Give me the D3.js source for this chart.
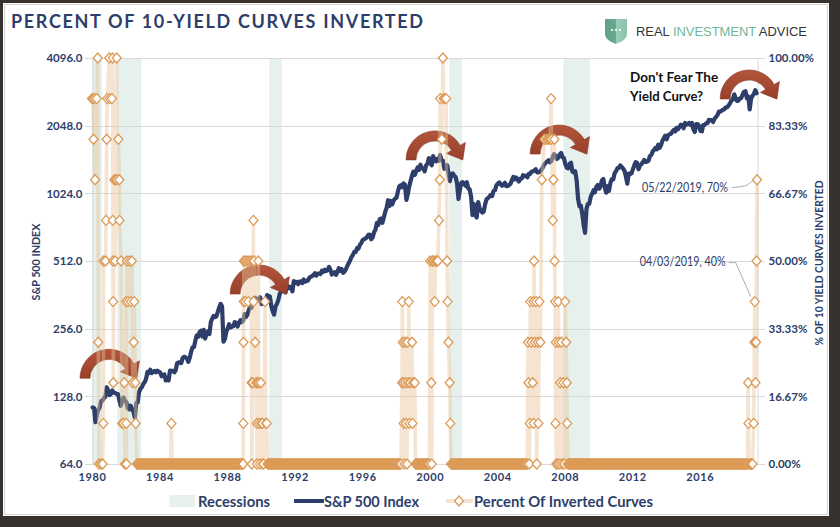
<!DOCTYPE html>
<html><head><meta charset="utf-8">
<script src="https://cdn.jsdelivr.net/npm/d3@7"></script>
<style>html,body{margin:0;padding:0;background:#37322e;}svg{display:block}</style>
</head><body>
<svg id="c" width="840" height="527"></svg>
<script>
// ---------------- DATA ----------------
const chartTitle = "PERCENT OF 10-YIELD CURVES INVERTED";
const spStartYear = 1980;
// S&P 500 monthly levels, one row per year
const sp500Monthly = [
[114.2,113.7,98.2,106.3,111.2,114.2,121.7,122.4,125.5,127.5,140.5,135.8],
[129.6,131.3,136.0,132.8,132.6,131.2,130.9,122.8,116.2,121.9,126.4,122.6],
[120.4,113.1,112.0,116.4,111.9,109.6,103.0,119.5,120.4,133.7,138.5,140.6],
[145.3,148.1,153.0,164.4,162.4,168.1,162.6,164.4,166.1,163.6,166.4,164.9],
[163.4,157.1,159.2,160.1,150.6,153.2,150.7,166.7,166.1,166.1,163.6,167.2],
[179.6,181.2,180.7,179.8,189.6,191.9,190.9,188.6,182.1,189.8,202.2,211.3],
[211.8,226.9,238.9,235.5,247.4,250.8,236.1,252.9,231.3,244.0,249.2,242.2],
[274.1,284.2,291.7,288.4,290.1,304.0,318.7,329.8,321.8,224.0,230.3,247.1],
[257.1,267.8,258.9,261.3,262.2,273.5,272.0,261.5,271.9,279.0,273.7,277.7],
[297.5,288.9,294.9,309.6,320.5,318.0,346.1,351.5,349.2,340.4,346.0,353.4],
[329.1,331.9,339.9,330.8,361.2,358.0,356.2,322.6,306.1,295.5,322.2,330.2],
[343.9,367.1,375.2,375.3,389.8,371.2,387.8,395.4,387.9,392.5,375.2,417.1],
[408.8,412.7,403.7,415.0,415.4,408.1,424.2,414.0,417.8,418.7,431.4,435.7],
[438.8,443.4,451.7,440.2,450.2,450.5,448.1,463.6,458.9,467.8,461.8,466.5],
[481.6,467.1,445.8,450.9,456.5,444.3,458.3,475.5,462.7,472.4,453.7,459.3],
[470.4,487.4,500.7,514.7,533.4,544.8,562.1,561.9,584.4,581.5,605.4,615.9],
[636.0,640.4,645.5,654.2,669.1,670.6,639.9,652.0,687.3,705.3,757.0,740.7],
[786.2,790.8,757.1,801.3,848.3,885.1,954.3,899.5,947.3,914.6,955.4,970.4],
[980.3,1049.3,1101.8,1111.8,1090.8,1133.8,1120.7,957.3,1017.0,1098.7,1163.6,1229.2],
[1279.6,1238.3,1286.4,1335.2,1301.8,1372.7,1328.7,1320.4,1282.7,1362.9,1389.0,1469.3],
[1394.5,1366.4,1498.6,1452.4,1420.6,1454.6,1430.8,1517.7,1436.5,1429.4,1315.2,1320.3],
[1366.0,1239.9,1160.3,1249.5,1255.8,1224.4,1211.2,1133.6,966.0,1059.8,1139.5,1148.1],
[1130.2,1106.7,1147.4,1076.9,1067.1,989.8,820.0,916.1,815.3,800.0,936.3,879.8],
[855.7,841.2,848.2,916.9,963.6,974.5,990.3,1008.0,996.0,1050.7,1058.2,1111.9],
[1131.1,1144.9,1126.2,1107.3,1120.7,1140.8,1101.7,1104.2,1114.6,1130.2,1173.8,1211.9],
[1181.3,1203.6,1180.6,1156.9,1191.5,1191.3,1234.2,1220.3,1228.8,1207.0,1249.5,1248.3],
[1280.1,1280.7,1294.9,1310.6,1270.1,1270.2,1276.7,1303.8,1335.9,1377.9,1400.6,1418.3],
[1438.2,1406.8,1420.9,1482.4,1530.6,1503.4,1455.3,1474.0,1526.8,1549.4,1481.1,1468.4],
[1378.6,1330.6,1322.7,1385.6,1400.4,1280.0,1267.4,1282.8,1166.4,968.8,896.2,903.3],
[825.9,735.1,683.0,872.8,919.1,919.3,987.5,1020.6,1057.1,1036.2,1095.6,1115.1],
[1073.9,1104.5,1169.4,1186.7,1089.4,1030.7,1101.6,1049.3,1141.2,1183.3,1180.6,1257.6],
[1286.1,1327.2,1325.8,1363.6,1345.2,1320.6,1292.3,1218.9,1131.4,1253.3,1247.0,1257.6],
[1312.4,1366.0,1408.5,1397.9,1310.3,1362.2,1379.3,1406.6,1440.7,1412.2,1416.2,1426.2],
[1498.1,1514.7,1569.2,1597.6,1630.7,1606.3,1685.7,1633.0,1681.6,1756.5,1805.8,1848.4],
[1782.6,1859.5,1872.3,1883.9,1923.6,1960.2,1930.7,2003.4,1972.3,2018.1,2067.6,2058.9],
[1995.0,2104.5,2067.9,2085.5,2107.4,2063.1,2103.8,1972.2,1920.0,2079.4,2080.4,2043.9],
[1940.2,1932.2,2059.7,2065.3,2097.0,2098.9,2173.6,2171.0,2168.3,2126.2,2199.0,2238.8],
[2278.9,2363.6,2362.7,2384.2,2411.8,2423.4,2470.3,2471.7,2519.4,2575.3,2647.6,2673.6],
[2823.8,2713.8,2640.9,2648.1,2705.3,2718.4,2816.3,2901.5,2914.0,2711.7,2760.2,2420.0],
[2704.1,2784.5,2834.4,2945.8,2856.0]
];
// NBER recessions
const recessions = [
["1980-01-01","1980-07-31"],["1981-07-01","1982-11-30"],["1990-07-01","1991-03-31"],
["2001-03-01","2001-11-30"],["2007-12-01","2009-06-30"]];
// Percent of 10 yield curves inverted: [decimal year, percent]
const pctPoints = [
[1980.00,90],[1980.06,90],[1980.09,80],[1980.15,90],[1980.18,70],[1980.28,90],[1980.34,100],[1980.37,30],
[1980.41,0],[1980.53,0],[1980.63,0],[1980.67,10],[1980.68,50],[1980.80,50],[1980.83,60],[1980.87,80],
[1980.89,90],[1981.02,100],[1981.04,90],[1981.18,90],[1981.22,100],[1981.23,60],[1981.24,50],[1981.25,40],
[1981.26,20],[1981.32,70],[1981.37,50],[1981.39,70],[1981.46,100],[1981.48,70],[1981.56,80],[1981.62,70],
[1981.63,60],[1981.72,50],[1981.78,10],[1981.86,10],[1981.91,20],[1981.95,0],[1982.01,40],[1982.03,10],
[1982.04,0],[1982.06,50],[1982.14,40],[1982.22,50],[1982.31,40],[1982.36,50],[1982.41,20],[1982.47,30],
[1982.50,40],[1982.57,20],[1982.59,10],
[1984.70,10],
[1988.95,0],[1988.96,10],[1988.97,30],[1988.98,40],[1988.99,50],[1989.06,50],[1989.08,40],[1989.18,50],
[1989.25,40],[1989.30,50],[1989.42,50],[1989.45,20],[1989.46,0],[1989.52,20],[1989.54,50],[1989.56,60],
[1989.57,40],[1989.60,50],[1989.66,30],[1989.72,20],[1989.76,10],[1989.77,0],[1989.80,20],[1989.85,50],
[1989.88,20],[1989.90,10],[1989.95,0],[1990.00,20],[1990.03,10],[1990.10,10],[1990.12,0],[1990.16,0],
[1990.25,40],[1990.30,10],[1990.35,10],
[1998.30,0],[1998.36,20],[1998.38,40],[1998.40,30],[1998.42,20],[1998.46,10],[1998.50,0],[1998.54,30],
[1998.56,20],[1998.60,10],[1998.66,0],[1998.68,30],[1998.72,20],[1998.76,40],[1998.80,10],[1998.84,20],
[1998.96,30],[1998.98,10],[1999.02,20],[1999.12,20],
[1999.98,0],[2000.03,50],[2000.10,20],[2000.12,0],[2000.16,50],[2000.22,50],[2000.30,40],[2000.34,50],
[2000.42,50],[2000.48,50],[2000.55,60],[2000.60,70],[2000.62,90],[2000.72,80],[2000.78,100],[2000.82,90],
[2000.88,90],[2000.97,90],[2001.03,50],[2001.06,40],[2001.11,30],[2001.18,20],[2001.22,10],
[2005.82,30],[2005.85,20],[2005.90,0],[2005.93,10],[2005.96,40],[2006.02,30],[2006.10,20],[2006.14,40],
[2006.15,10],[2006.18,50],[2006.22,30],[2006.30,40],[2006.34,0],[2006.40,30],[2006.44,10],[2006.50,40],
[2006.56,30],[2006.64,70],[2006.80,80],[2006.94,80],[2007.04,80],[2007.13,80],[2007.19,90],[2007.22,80],
[2007.29,60],[2007.33,70],[2007.39,80],[2007.40,50],[2007.43,40],[2007.45,10],[2007.47,30],[2007.50,0],
[2007.58,0],[2007.62,40],[2007.64,30],[2007.70,0],[2007.73,20],[2007.80,30],[2007.85,0],[2007.92,20],
[2007.98,0],[2008.02,40],[2008.08,30],[2008.12,20],[2008.14,10],
[2018.86,20],[2018.88,10],
[2019.19,10],[2019.23,30],[2019.252,40],[2019.28,30],[2019.30,20],[2019.33,30],[2019.36,50],[2019.386,70]
];
// stretches where the percentage sits at 0%
const zeroRuns = [[1982.66,1984.66],[1984.74,1988.94],[1990.40,1998.26],[1999.16,1999.96],
[2001.26,2005.78],[2008.18,2018.84],[2018.92,2019.14]];
const leftTicks = [64,128,256,512,1024,2048,4096];
const rightTicks = [0,100/6,200/6,50,400/6,500/6,100];
const xTickYears = [1980,1984,1988,1992,1996,2000,2004,2008,2012,2016];
const dataLabels = [{year:2019.386, pct:70, text:"05/22/2019, 70%"},{year:2019.252, pct:40, text:"04/03/2019, 40%"}];
// arrow annotations: [decimal year of left foot, S&P level of foot]
const arrows = [[1979.29,154],[1988.18,365],[1998.6,1442],[2005.95,1531],[2017.2,2691]];
const legendItems = ["Recessions","S&P 500 Index","Percent Of Inverted Curves"];

// ---------------- HELPERS ----------------
const navy = "#2d3e6a", orange = "#dc9a56", gridC = "#d9d9d9";
function toDate(y){const yr=Math.floor(y);const a=new Date(yr,0,1),b=new Date(yr+1,0,1);return new Date(+a+(y-yr)*(b-a));}

const svg = d3.select("#c");
svg.append("rect").attr("x",3).attr("y",3).attr("width",826).attr("height",513).attr("fill","#fff");
svg.append("rect").attr("x",4.5).attr("y",4.5).attr("width",823).attr("height",510).attr("fill","none").attr("stroke","#d6d6d6");

const x = d3.scaleTime().domain([new Date(1980,0,1), new Date(2019,4,22)]).range([92,757]);
const yL = d3.scaleLog().base(2).domain([64,4096]).range([464,58]);
const yR = d3.scaleLinear().domain([0,100]).range([464,58]);

// recessions
svg.append("g").selectAll("rect").data(recessions).join("rect")
 .attr("x",d=>x(new Date(d[0]))).attr("width",d=>x(new Date(d[1]))-x(new Date(d[0])))
 .attr("y",58).attr("height",406).attr("fill","#e6f1ed");

// grid
svg.append("g").selectAll("line").data(leftTicks).join("line")
 .attr("x1",85).attr("x2",765).attr("y1",d=>Math.round(yL(d))+0.5).attr("y2",d=>Math.round(yL(d))+0.5)
 .attr("stroke",gridC).attr("stroke-width",1);

// axes
const axL = svg.append("g").attr("transform","translate(92.5,0)")
 .call(d3.axisLeft(yL).tickValues(leftTicks).tickFormat(d3.format(".1f")).tickSize(0).tickPadding(10));
const axR = svg.append("g").attr("transform","translate(757.5,0)")
 .call(d3.axisRight(yR).tickValues(rightTicks).tickFormat(d=>d.toFixed(2)+"%").tickSize(0).tickPadding(11));
const axB = svg.append("g").attr("transform","translate(0,464)")
 .call(d3.axisBottom(x).tickValues(xTickYears.map(y=>new Date(y,0,1))).tickFormat(d3.timeFormat("%Y")).tickSize(0).tickPadding(9));
[axL,axR,axB].forEach(a=>{a.select(".domain").attr("stroke",gridC);
 a.selectAll("text").attr("fill",navy).attr("font-family","Lato, sans-serif").attr("font-weight","bold").attr("font-size",11.5);});
axB.select(".domain").remove();
axB.selectAll("text").attr("font-size",11).attr("letter-spacing",0.6);

// axis titles
svg.append("text").attr("transform","translate(40,262) rotate(-90)").attr("text-anchor","middle")
 .attr("fill",navy).attr("font-family","Lato, sans-serif").attr("font-weight","bold").attr("font-size",11)
 .attr("textLength",77).attr("lengthAdjust","spacingAndGlyphs").text("S&P 500 INDEX");
svg.append("text").attr("transform","translate(823,263) rotate(-90)").attr("text-anchor","middle")
 .attr("fill",navy).attr("font-family","Lato, sans-serif").attr("font-weight","bold").attr("font-size",11.5)
 .attr("textLength",165).attr("lengthAdjust","spacingAndGlyphs").text("% OF 10 YIELD CURVES INVERTED");

// S&P line
const spData = [];
sp500Monthly.forEach((row,i)=>row.forEach((v,m)=>spData.push({date:new Date(spStartYear+i,m,15),v})));
svg.append("path").datum(spData).attr("fill","none").attr("stroke",navy).attr("stroke-width",4.2)
 .attr("stroke-linejoin","round").attr("stroke-linecap","round")
 .attr("d",d3.line().x(d=>x(d.date)).y(d=>yL(d.v)));

// arrows
function arrowPath(L,B){const cx=L+29,ro=29,ri=19,th=Math.PI/6,c=Math.cos(th),s=Math.sin(th);
 const P=r=>[cx+r*c,B-r*s];const mid=P(24);const tip=[mid[0]+s*14,mid[1]+c*14];
 return `M${cx-ro},${B} A${ro},${ro} 0 0 1 ${P(ro)} L${P(35)} L${tip} L${P(13)} L${P(ri)} A${ri},${ri} 0 0 0 ${cx-ri},${B} Z`;}
const defs = svg.append("defs");
const grad = defs.append("linearGradient").attr("id","ag").attr("x1",0).attr("y1",0).attr("x2",0).attr("y2",1);
grad.append("stop").attr("offset","0%").attr("stop-color","#b2553b");
grad.append("stop").attr("offset","100%").attr("stop-color","#983f2a");
svg.append("g").selectAll("path").data(arrows).join("path")
 .attr("d",d=>arrowPath(x(toDate(d[0])),yL(d[1]))).attr("fill","url(#ag)").attr("stroke","#8a3825").attr("stroke-width",0.6);

// percent series
let pct = pctPoints.map(d=>({date:toDate(d[0]),p:d[1]}));
zeroRuns.forEach(([a,b])=>{for(let t=a;t<=b+1e-9;t+=0.04) pct.push({date:toDate(t),p:0});});
pct.sort((a,b)=>a.date-b.date);
svg.append("path").datum(pct).attr("fill","none").attr("stroke","#e6c398").attr("stroke-opacity",0.45)
 .attr("stroke-width",3.6).attr("d",d3.line().x(d=>x(d.date)).y(d=>yR(d.p)));
const diamond = "M0,-5 L4.5,0 L0,5 L-4.5,0 Z";
svg.append("g").selectAll("path").data(pct).join("path")
 .attr("transform",d=>`translate(${x(d.date)},${yR(d.p)})`).attr("d",diamond)
 .attr("fill","#fff").attr("stroke",orange).attr("stroke-width",1.3);

// data labels
dataLabels.forEach((d,i)=>{const px=x(toDate(d.year)),py=yR(d.pct);
 const ty = i===0 ? py+12 : py-36;
 const lead = i===0 ? [[px-25,py+8],[px-11,py+6],[px-4,py+1]] : [[px-26,py-39],[px-19,py-39],[px-4,py-5]];
 svg.append("path").attr("d",d3.line()(lead)).attr("fill","none").attr("stroke","#a6a6a6").attr("stroke-width",0.9);
 svg.append("text").attr("x",px-29).attr("y",ty).attr("text-anchor","end").attr("fill",navy)
  .attr("font-family","Lato, sans-serif").attr("font-size",12.5).attr("textLength",86).attr("lengthAdjust","spacingAndGlyphs").text(d.text);
});

// headline annotation
const a5 = arrows[4];
const tx = x(toDate(a5[0]))-90, tyy = yL(a5[1]);
svg.append("text").attr("x",tx).attr("y",tyy-17).attr("font-family","Lato, sans-serif").attr("font-weight","bold")
 .attr("font-size",14).attr("fill","#111").attr("textLength",88).attr("lengthAdjust","spacingAndGlyphs").text("Don't Fear The");
svg.append("text").attr("x",tx).attr("y",tyy+2).attr("font-family","Lato, sans-serif").attr("font-weight","bold")
 .attr("font-size",14).attr("fill","#111").attr("textLength",73).attr("lengthAdjust","spacingAndGlyphs").text("Yield Curve?");

// title
svg.append("text").attr("x",11).attr("y",28).attr("fill",navy).attr("font-family","Lato, sans-serif")
 .attr("font-weight","bold").attr("font-size",18).attr("textLength",412).attr("lengthAdjust","spacing").text(chartTitle);

// logo
const sg = defs.append("linearGradient").attr("id","sg").attr("x1",0).attr("y1",0).attr("x2",1).attr("y2",0);
sg.append("stop").attr("offset","0%").attr("stop-color","#5f9f88");
sg.append("stop").attr("offset","50%").attr("stop-color","#6aa991");
sg.append("stop").attr("offset","50%").attr("stop-color","#9ccdb9");
sg.append("stop").attr("offset","100%").attr("stop-color","#8cc2ab");
svg.append("path").attr("d","M605,19 L627,19 L627,34 Q627,40 616,44 Q605,40 605,34 Z").attr("fill","url(#sg)");
[612,616,620].forEach(cx=>svg.append("circle").attr("cx",cx).attr("cy",30).attr("r",1.1).attr("fill","#fff"));
const lt = svg.append("text").attr("x",636).attr("y",35.5).attr("font-family","Liberation Sans, Arial, sans-serif")
 .attr("font-size",12.5).attr("textLength",171).attr("lengthAdjust","spacingAndGlyphs");
lt.append("tspan").attr("fill","#333").text("REAL ");
lt.append("tspan").attr("fill","#6fb69a").text("INVESTMENT");
lt.append("tspan").attr("fill","#333").text(" ADVICE");

// legend
const lg = svg.append("g");
const lf = (sel)=>sel.attr("fill",navy).attr("font-family","Lato, sans-serif").attr("font-weight","bold").attr("font-size",15).attr("lengthAdjust","spacingAndGlyphs");
lg.append("rect").attr("x",169.5).attr("y",495).attr("width",25.5).attr("height",12).attr("fill","#e6f1ed");
lf(lg.append("text").attr("x",198).attr("y",506.5).attr("textLength",72).text(legendItems[0]));
lg.append("line").attr("x1",294).attr("x2",324).attr("y1",501).attr("y2",501).attr("stroke",navy).attr("stroke-width",4);
lf(lg.append("text").attr("x",324).attr("y",506.5).attr("textLength",95).text(legendItems[1]));
lg.append("line").attr("x1",446).attr("x2",473).attr("y1",501).attr("y2",501).attr("stroke","#e6c398").attr("stroke-opacity",0.45).attr("stroke-width",4);
lg.append("path").attr("transform","translate(459,501)").attr("d",diamond).attr("fill","#fff").attr("stroke",orange).attr("stroke-width",1.3);
lf(lg.append("text").attr("x",474).attr("y",506.5).attr("textLength",179).text(legendItems[2]));
</script>
</body></html>
